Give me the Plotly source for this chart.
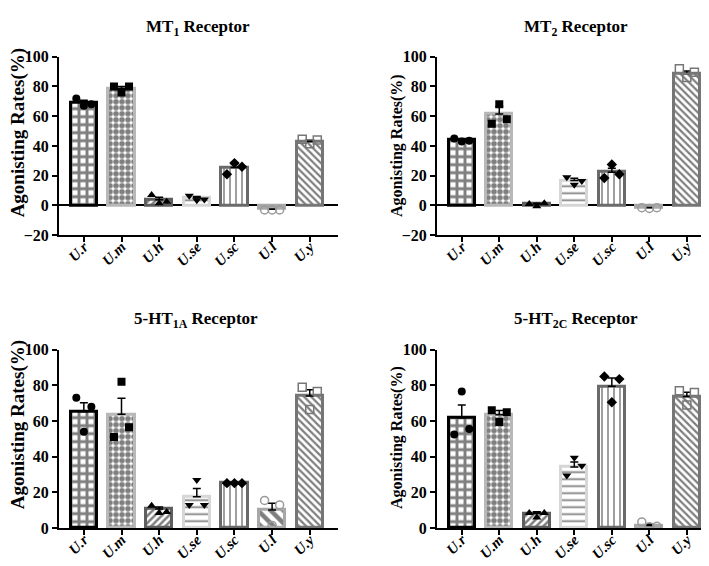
import plotly.graph_objects as go

# categorias (extractos)
categories = ["U.r", "U.m", "U.h", "U.se", "U.sc", "U.l", "U.y"]

# MT1
mt1_mean = [69.2, 78.7, 3.9, 5.0, 25.6, -2.5, 43.0]
mt1_sem = [1.5, 1.3, 1.7, 1.0, 2.5, 0.2, 1.0]
mt1_rep = [[72, 67, 68], [80, 76, 80], [7, 1.5, 2.5], [6.5, 3.5, 4],
           [21, 28.5, 26], [-3, -3, -3], [44.5, 41.5, 44]]

# MT2
mt2_mean = [44.2, 61.5, 1.0, 16.8, 22.4, -1.5, 88.7]
mt2_sem = [0.6, 5.0, 0.5, 1.5, 2.7, 0.2, 1.7]
mt2_rep = [[45, 43, 43.5], [55, 68, 58], [1, -0.5, 1.5], [19, 14, 16.5],
           [18.5, 27.5, 21], [-1.5, -2, -1.5], [92, 86, 89.5]]

# 5-HT1A
ht1a_mean = [65.4, 63.8, 10.7, 17.6, 25.5, 10.1, 74.1]
ht1a_sem = [4.9, 9.0, 1.2, 4.6, 0.1, 3.9, 3.4]
ht1a_rep = [[73, 54, 68], [51, 82, 56.5], [12.5, 8.5, 9], [13, 27, 13],
            [25.2, 25.2, 25.2], [15.5, 1.5, 13], [79, 66.5, 76.5]]

# 5-HT2C
ht2c_mean = [61.8, 63.6, 8.3, 34.2, 79.5, 1.5, 73.7]
ht2c_sem = [7.2, 2.3, 0.9, 2.9, 4.6, 0.8, 2.5]
ht2c_rep = [[52.5, 76.5, 55.5], [66, 59.5, 65], [8.5, 6, 8.5], [29.5, 39.5, 35],
            [85, 70.5, 83.5], [3.5, 0.8, 1.0], [77, 69, 76]]

# estilos por barra
line_colors = ["#000000", "#b8b8b8", "#5e5e5e", "#d6d6d6", "#6a6a6a", "#a8a8a8", "#757575"]
shapes = ["+", ".", "/", "-", "|", "\\", "\\"]
psizes = [8, 6, 5, 7, 6, 9, 5]
psolid = [0.6, 0.68, 0.5, 0.25, 0.25, 0.5, 0.45]
symbols = ["circle", "square", "triangle-up", "triangle-down", "diamond", "circle-open", "square-open"]
mcolors = ["black", "black", "black", "black", "black", "#9a9a9a", "#777777"]
mlw = [0, 0, 0, 0, 0, 1.5, 1.5]
offsets = [-0.2, 0, 0.2]

FONT = "Liberation Serif, Times New Roman, Times, serif"
panels = [
    ("MT<sub>1</sub> Receptor", mt1_mean, mt1_sem, mt1_rep),
    ("MT<sub>2</sub> Receptor", mt2_mean, mt2_sem, mt2_rep),
    ("5-HT<sub>1A</sub> Receptor", ht1a_mean, ht1a_sem, ht1a_rep),
    ("5-HT<sub>2C</sub> Receptor", ht2c_mean, ht2c_sem, ht2c_rep),
]

W, H = 709, 566
xdoms = [[51 / W, 330 / W], [429 / W, 707 / W]]
ydoms = [[1 - 226 / H, 1 - 42 / H], [1 - 528 / H, 1 - 344 / H]]
title_pos = [(190, 12), (568, 12), (188, 313), (568, 313)]
ytitle_pos = [(10, 121, 19), (389, 134, 16), (10, 422, 19), (389, 435, 16)]

fig = go.Figure()
layout = {}
annotations = []
xs = list(range(len(categories)))

for k, (title, mean, sem, rep) in enumerate(panels):
    n = k + 1
    xa = "x" if n == 1 else "x%d" % n
    ya = "y" if n == 1 else "y%d" % n
    fig.add_bar(
        x=xs, y=mean, width=0.7, xaxis=xa, yaxis=ya, showlegend=False,
        marker=dict(color="white", line=dict(color=line_colors, width=3),
                    pattern=dict(shape=shapes, fgcolor="black", bgcolor="white",
                                 size=psizes, solidity=psolid, fillmode="overlay")),
        error_y=dict(type="data", array=sem, arrayminus=[0] * 7, color="black",
                     thickness=1.5, width=4),
    )
    px_, py_, sy, sc, lw = [], [], [], [], []
    for i, vals in enumerate(rep):
        for j, v in enumerate(vals):
            px_.append(i + offsets[j])
            py_.append(v)
            sy.append(symbols[i])
            sc.append(mcolors[i])
            lw.append(mlw[i])
    fig.add_scatter(x=px_, y=py_, mode="markers", xaxis=xa, yaxis=ya, showlegend=False,
                    marker=dict(symbol=sy, color=sc, size=8, line=dict(color=sc, width=lw)))

    top = k < 2
    col = k % 2
    row = 0 if top else 1
    ykey = "yaxis" if n == 1 else "yaxis%d" % n
    xkey = "xaxis" if n == 1 else "xaxis%d" % n
    layout[xkey] = dict(
        domain=xdoms[col], anchor=ya, range=[-0.66, 6.75],
        tickvals=xs, ticktext=["<b><i>%s</i></b>" % c for c in categories],
        tickangle=-45, ticks="outside", ticklen=5, tickwidth=2, tickcolor="black",
        ticklabelstandoff=-10,
        showline=True, linewidth=2, linecolor="black", showgrid=False, zeroline=False,
        tickfont=dict(family=FONT, size=15, color="black"),
    )
    layout[ykey] = dict(
        domain=ydoms[row], anchor=xa, range=[-20, 100] if top else [0, 100],
        tickvals=[-20, 0, 20, 40, 60, 80, 100] if top else [0, 20, 40, 60, 80, 100],
        ticks="outside", ticklen=5, tickwidth=2, tickcolor="black",
        showline=True, linewidth=2, linecolor="black", showgrid=False,
        zeroline=top, zerolinecolor="black", zerolinewidth=2,
        tickfont=dict(family=FONT, size=16, color="black", weight="bold"),
    )
    tx, ty = title_pos[k]
    annotations.append(dict(text="<b>%s</b>" % title, x=tx / W, y=1 - ty / H, xref="paper", yref="paper",
                            showarrow=False, xanchor="center", yanchor="middle",
                            font=dict(family=FONT, size=17, color="black")))
    ax_, ay_, fs = ytitle_pos[k]
    annotations.append(dict(text="<b>Agonisting Rates(%)</b>", x=ax_ / W, y=1 - ay_ / H, xref="paper",
                            yref="paper", showarrow=False, textangle=-90, xanchor="center",
                            yanchor="middle", font=dict(family=FONT, size=fs, color="black")))

fig.update_layout(width=W, height=H, margin=dict(l=0, r=0, t=0, b=0),
                  paper_bgcolor="white", plot_bgcolor="white", annotations=annotations,
                  bargap=0, **layout)
fig.write_html("out.html")
